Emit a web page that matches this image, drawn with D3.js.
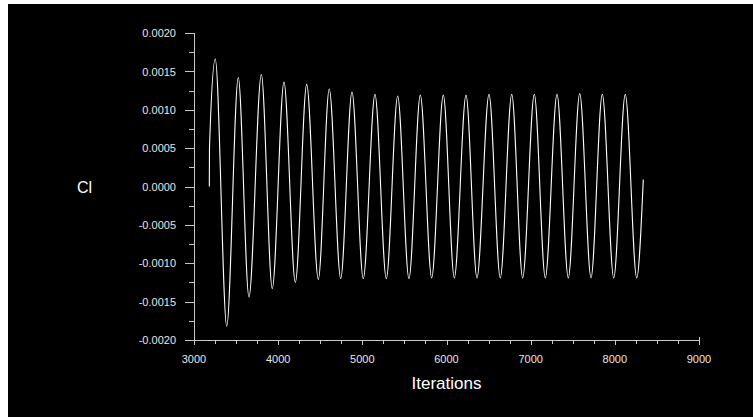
<!DOCTYPE html>
<html>
<head>
<meta charset="utf-8">
<script src="https://cdn.jsdelivr.net/npm/d3@7"></script>
<style>
  html, body { margin: 0; padding: 0; background: #fff; }
  svg { display: block; }
</style>
</head>
<body>
<script>
// Iterations (x) and Cl (y): start, peaks/troughs, end
const iterations = [3182, 3184, 3253, 3389, 3526, 3653, 3800, 3930, 4069, 4204, 4339, 4477,
  4607, 4743, 4877, 5011, 5150, 5285, 5420, 5554, 5689, 5824, 5962, 6093, 6232, 6362,
  6505, 6639, 6775, 6905, 7043, 7174, 7313, 7447, 7583, 7717, 7851, 7987, 8124, 8260, 8338];
const clValues = [0.0, 0.00050, 0.00166, -0.00182, 0.00142, -0.00144, 0.00146, -0.00133, 0.00136, -0.00125,
  0.00133, -0.00121, 0.00127, -0.00120, 0.00123, -0.00120, 0.00120, -0.00120, 0.00118, -0.00120,
  0.00119, -0.00119, 0.00119, -0.00119, 0.00119, -0.00119, 0.00120, -0.00119, 0.00120, -0.00119,
  0.00120, -0.00119, 0.00120, -0.00119, 0.00121, -0.00119, 0.00120, -0.00119, 0.00120, -0.00119, 0.00009];
const xTickLabels = [3000, 4000, 5000, 6000, 7000, 8000, 9000];
const yTickLabels = [-0.0020, -0.0015, -0.0010, -0.0005, 0.0000, 0.0005, 0.0010, 0.0015, 0.0020];

const W = 753, H = 417;
const svg = d3.select("body").append("svg").attr("width", W).attr("height", H)
  .style("background", "#fff");
svg.append("rect").attr("x", 8).attr("y", 4).attr("width", W - 8).attr("height", H - 4).attr("fill", "#000");

const x = d3.scaleLinear().domain([3000, 9000]).range([194, 699]);
const y = d3.scaleLinear().domain([-0.002, 0.002]).range([340, 33]);

const axisColor = "#c8c8c8";
const textColor = "#e6e6e6";
const font = "'Liberation Sans', Arial, sans-serif";

// Y axis
const yMinor = d3.range(-0.002, 0.002 + 1e-9, 0.00025);
const gy = svg.append("g");
gy.append("line").attr("x1", 194.5).attr("x2", 194.5).attr("y1", y(0.002)).attr("y2", y(-0.002))
  .attr("stroke", axisColor).attr("stroke-width", 1);
gy.selectAll("line.t").data(yMinor).join("line").attr("class", "t")
  .attr("x1", (d, i) => i % 2 === 0 ? 185 : 189).attr("x2", 194.5)
  .attr("y1", d => Math.round(y(d)) + 0.5).attr("y2", d => Math.round(y(d)) + 0.5)
  .attr("stroke", axisColor).attr("stroke-width", 1);
const fmt = v => (v < 0 ? "-" : "") + Math.abs(v).toFixed(4);
gy.selectAll("text").data(yTickLabels).join("text")
  .attr("x", 176).attr("y", d => y(d) + 4.2)
  .attr("text-anchor", "end").attr("fill", textColor)
  .style("font-family", font).style("font-size", "11px")
  .text(fmt);

// X axis
const xMinor = d3.range(3000, 9000 + 1, 250);
const gx = svg.append("g");
gx.append("line").attr("x1", x(3000)).attr("x2", x(9000) + 0.5).attr("y1", 340.5).attr("y2", 340.5)
  .attr("stroke", axisColor).attr("stroke-width", 1);
gx.selectAll("line.t").data(xMinor).join("line").attr("class", "t")
  .attr("x1", d => Math.round(x(d)) + 0.5).attr("x2", d => Math.round(x(d)) + 0.5)
  .attr("y1", d => (d === 3000 || d === 9000) ? 337 : 340.5)
  .attr("y2", d => d % 1000 === 0 ? 345 : 344)
  .attr("stroke", axisColor).attr("stroke-width", 1);
gx.selectAll("text").data(xTickLabels).join("text")
  .attr("x", d => x(d)).attr("y", 363.3)
  .attr("text-anchor", "middle").attr("fill", textColor)
  .style("font-family", font).style("font-size", "11px")
  .text(d => d);

// Axis titles
svg.append("text").attr("x", 446.5).attr("y", 389).attr("text-anchor", "middle")
  .attr("fill", "#ffffff").style("font-family", font).style("font-size", "17px").text("Iterations");
svg.append("text").attr("x", 84.5).attr("y", 193.3).attr("text-anchor", "middle")
  .attr("fill", "#ffffff").style("font-family", font).style("font-size", "16px").text("Cl");

// Line
const pts = iterations.map((it, i) => [it, clValues[i]]);
const line = d3.line().x(d => x(d[0])).y(d => y(d[1])).curve(d3.curveMonotoneX);
svg.append("path").datum(pts).attr("d", line)
  .attr("fill", "none").attr("stroke", "#ffffff").attr("stroke-width", 1.1);
</script>
</body>
</html>
